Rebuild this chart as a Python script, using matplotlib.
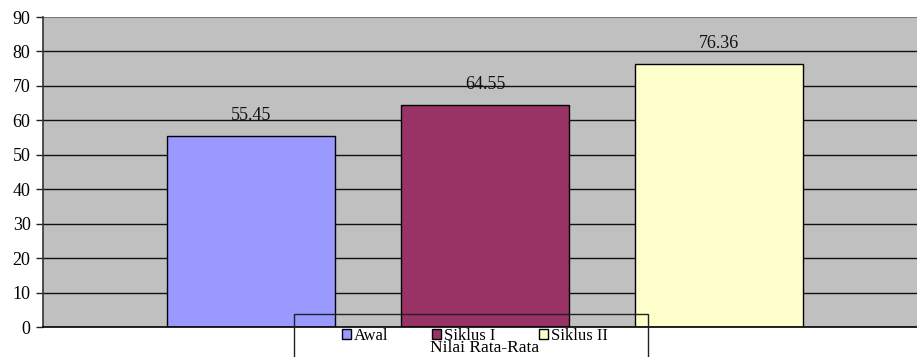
import matplotlib.pyplot as plt
from matplotlib.patches import Rectangle

# data
series = ['Awal', 'Siklus I', 'Siklus II']
values = [55.45, 64.55, 76.36]
value_labels = ['55.45', '64.55', '76.36']
colors = ['#9999FF', '#993366', '#FFFFCC']
yticks = [0, 10, 20, 30, 40, 50, 60, 70, 80, 90]
xlabel = 'Nilai Rata-Rata'

plt.rcParams['font.family'] = ['Liberation Serif', 'DejaVu Serif']

fig = plt.figure(figsize=(9.17, 3.57), dpi=100)
ax = fig.add_axes([43/917, 1 - 327/357, 1 - 43/917, 310/357])
ax.set_facecolor('#C0C0C0')

pos = [-1, 0, 1]
bars = ax.bar(pos, values, width=0.718, color=colors, edgecolor='black',
              linewidth=1, zorder=3, label=series)
for b, lab in zip(bars, value_labels):
    ax.annotate(lab, (b.get_x() + b.get_width()/2, b.get_height()),
                xytext=(0, 8.5), textcoords='offset points',
                ha='center', va='bottom', fontsize=13, color='#111111')

ax.set_xlim(-1.889, 1.846)
ax.set_ylim(0, 90)
ax.set_yticks(yticks)
ax.tick_params(axis='y', direction='out', length=5, width=1, labelsize=13,
               pad=4, colors='#222222')
ax.tick_params(axis='y', labelcolor='black')
ax.set_xticks([])
for y in yticks[1:-1]:
    ax.axhline(y, color='#111111', linewidth=1, zorder=1)

for s in ['top', 'right']:
    ax.spines[s].set_visible(False)
ax.axhline(90, color='#777777', linewidth=1.5, zorder=1)
ax.spines['left'].set_color('#333333')
ax.spines['left'].set_linewidth(1.2)
ax.spines['bottom'].set_color('black')
ax.spines['bottom'].set_linewidth(1.2)
ax.spines['bottom'].set_zorder(4)

# legend frame (outline only, runs off the bottom of the image)
fig.patches.append(Rectangle((294/917, -0.05), (648 - 294)/917, (357 - 314)/357 + 0.05,
                             transform=fig.transFigure, fill=False,
                             edgecolor='#222222', linewidth=1, zorder=10))

handles = [Rectangle((0, 0), 1, 1, facecolor=c, edgecolor='black', linewidth=1)
           for c in colors]
fig.legend(handles, series, loc='center', bbox_to_anchor=(475/917, 1 - 336/357),
           ncol=3, frameon=False, fontsize=12, handlelength=0.55,
           handleheight=0.55, handletextpad=0.18, columnspacing=2.6,
           borderpad=0, borderaxespad=0)
fig.text(485/917, 1 - 348/357, xlabel, ha='center', va='center', fontsize=12.5)

fig.savefig('out.png', dpi=100)
